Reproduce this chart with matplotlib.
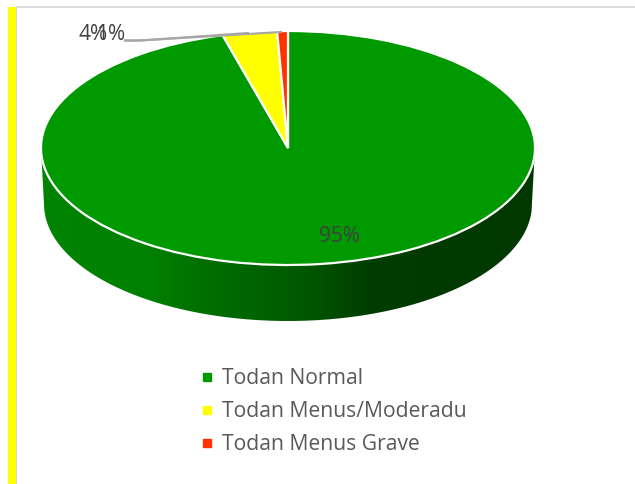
#!/usr/bin/env python3
import numpy as np
import matplotlib; matplotlib.use("Agg"); import matplotlib.pyplot as plt
from matplotlib.lines import Line2D
from matplotlib.patches import PathPatch, Rectangle
from matplotlib.path import Path as MPath
from matplotlib.colors import LinearSegmentedColormap

categories = ["Todan Normal", "Todan Menus/Moderadu", "Todan Menus Grave"]
values = [95.45, 3.55, 0.70]
colors = ["#009900", "#FFFF00", "#FF3300"]

W, H = 635, 484
plt.rcParams["font.family"] = ["Open Sans", "DejaVu Sans"]


def rect(x0, y0, x1, y1):
    # pixel box (top-left origin) -> figure fraction
    return [x0 / W, 1 - y1 / H, (x1 - x0) / W, (y1 - y0) / H]


fig = plt.figure(figsize=(W / 100, H / 100), dpi=100)

# page furniture, in pixels
bg = fig.add_axes([0, 0, 1, 1]); bg.set_xlim(0, W); bg.set_ylim(H, 0); bg.axis("off")
bg.add_patch(Rectangle((8, 7), 8, H - 7, color="#FFFF00", lw=0))
bg.add_patch(Rectangle((16, 7), 1.3, H - 7, color="#D9D9D9", lw=0))
bg.add_patch(Rectangle((16, 6), W - 16, 1.5, color="#DDDDDD", lw=0))

# side wall of the disc, a shaded strip under the lid
t = np.linspace(np.pi, 2 * np.pi, 200)
cx, cy, rx, ry = 288, 148, 247, 117
top = np.c_[cx + rx * np.cos(t), cy - ry * np.sin(t)]
low = np.c_[cx + (rx - 3) * np.cos(t[::-1]), cy + 56 - ry * np.sin(t[::-1])]
wall = PathPatch(MPath(np.r_[top, low, top[:1]]), fc="none", ec="none")
bg.add_patch(wall)
wall_cmap = LinearSegmentedColormap.from_list("wall", [
    (0.00, "#008400"), (0.22, "#008000"), (0.32, "#007000"), (0.53, "#005800"),
    (0.67, "#003C00"), (1.00, "#003800")])
img = bg.imshow(np.linspace(0, 1, 256)[None, :], cmap=wall_cmap, aspect="auto",
                extent=(41, 535, 330, 140), zorder=1)
img.set_clip_path(wall)
bg.set_xlim(0, W); bg.set_ylim(H, 0)

# lid of the disc: pie squashed by using a non-equal axes box
ax = fig.add_axes(rect(cx - rx, cy - ry, cx + rx, cy + ry))
wedges, _ = ax.pie(values, colors=colors, startangle=90, counterclock=False, radius=1,
                   wedgeprops=dict(edgecolor="white", linewidth=1.6))
ax.set_aspect("auto"); ax.set_xlim(-1, 1); ax.set_ylim(-1, 1)
for w in wedges:
    w.set_clip_on(False)

# percentage labels and leader lines
lbl = ["%.0f%%" % v for v in values]
bg2 = fig.add_axes([0, 0, 1, 1]); bg2.set_xlim(0, W); bg2.set_ylim(H, 0); bg2.axis("off")
bg2.text(339, 236, lbl[0], ha="center", va="center", fontsize=15, color="#404040")
bg2.text(93, 34, lbl[1], ha="center", va="center", fontsize=15, color="#404040")
bg2.text(111, 34, lbl[2], ha="center", va="center", fontsize=15, color="#404040")
bg2.plot([125, 140, 248], [40.5, 40.5, 33], color="#A6A6A6", lw=1.5)
bg2.plot([125, 140, 281], [40.5, 40.5, 32], color="#A6A6A6", lw=1.5)

handles = [Line2D([], [], ls="none", marker="s", ms=5.8, color=c) for c in colors]
fig.legend(handles, categories, loc="upper left", bbox_to_anchor=(201.5 / W, 1 - 368 / H),
           frameon=False, fontsize=15.2, labelcolor="#595959", handlelength=0.55,
           handletextpad=0.42, labelspacing=0.58, borderaxespad=0, borderpad=0)

fig.savefig("out.png", dpi=100)
